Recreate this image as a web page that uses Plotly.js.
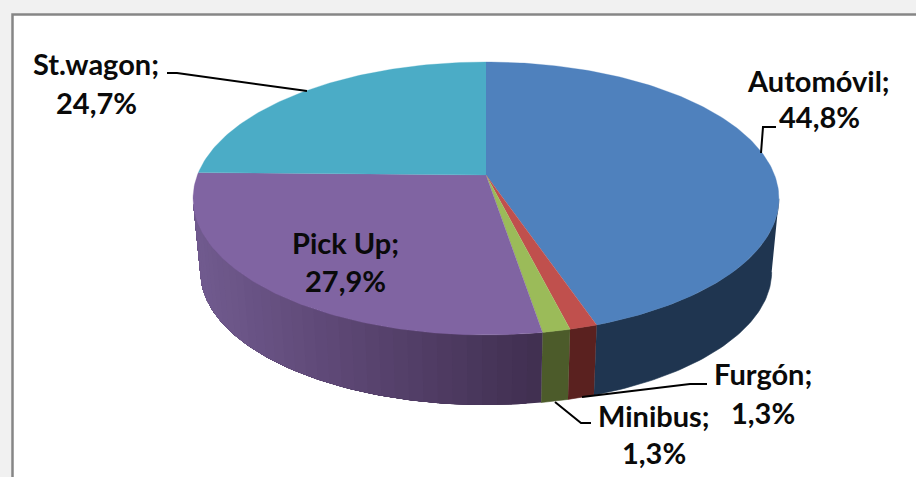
<!DOCTYPE html>
<html>
<head>
<meta charset="utf-8">
<script src="https://cdn.plot.ly/plotly-3.0.1.min.js"></script>
<style>html,body{margin:0;padding:0;background:#fff;overflow:hidden}#chart{width:916px;height:477px}</style>
</head>
<body>
<div id="chart"></div>
<script>
// Data
const categories = ["Automóvil", "Furgón", "Minibus", "Pick Up", "St.wagon"];
const shares = [44.8, 1.3, 1.3, 27.9, 24.7];

// Styles
const topColors = ["#4F81BD", "#C0504D", "#9BBB59", "#8064A2", "#4BACC6"];
const wallColors = ["#1F3550", "#5A211F", "#4C5B2A", null, "#325A69"];
const shadeStops = [[200, [112,90,142]], [330, [94,72,118]], [540, [64,47,80]]];

// Perspective model of the disc, in screen pixels
const CX = 486, TOP_Y = 175, BOTTOM_Y = 249;
const RX = 288.6, RY = 132.5, K = 0.172, BOTTOM_SCALE = 0.975;

function project(deg, y0, scale) {
  const t = deg * Math.PI / 180, u = Math.sin(t), v = Math.cos(t), d = 1 + K * v;
  return [CX + scale * RX * u / d, y0 - scale * RY * v / d];
}
function arc(a, b, y0, scale) {
  const n = Math.max(2, Math.ceil(Math.abs(b - a) / 1)), pts = [];
  for (let i = 0; i <= n; i++) pts.push(project(a + (b - a) * i / n, y0, scale));
  return pts;
}
function poly(pts, color, lw) {
  return {
    type: "scatter", mode: "lines", x: pts.map(p => p[0]), y: pts.map(p => p[1]),
    fill: "toself", fillcolor: color, line: {color: color, width: lw === undefined ? 0.6 : lw},
    hoverinfo: "skip", showlegend: false
  };
}
function shadeAt(x) {
  let c = shadeStops[shadeStops.length - 1][1];
  for (let i = 0; i < shadeStops.length - 1; i++) {
    const [x0, c0] = shadeStops[i], [x1, c1] = shadeStops[i + 1];
    if (x <= x1) {
      const f = Math.max(0, (x - x0) / (x1 - x0));
      c = c0.map((ch, k) => ch + (c1[k] - ch) * f);
      break;
    }
  }
  return "rgb(" + c.map(Math.round).join(",") + ")";
}

const total = shares.reduce((s, v) => s + v, 0);
const ranges = [];
let acc = 0;
shares.forEach(v => { ranges.push([acc / total * 360, (acc + v) / total * 360]); acc += v; });

const wall = (a, b) => arc(a, b, TOP_Y, 1).concat(arc(b, a, BOTTOM_Y, BOTTOM_SCALE));
const traces = [];
// Side wall: each band paints over the rest of its slice, so bands leave no seams
const VIS_A = 100, VIS_B = 258, BAND = 2.5;
ranges.forEach((r, i) => {
  const a = Math.max(r[0], VIS_A), b = Math.min(r[1], VIS_B);
  if (b <= a) return;
  if (wallColors[i]) { traces.push(poly(wall(a, b), wallColors[i])); return; }
  for (let s = a; s < b; s += BAND) {
    const mid = project(Math.min(s + BAND / 2, b), TOP_Y, 1)[0];
    traces.push(poly(wall(s, b), shadeAt(mid), 0));
  }
});
// Top face
ranges.forEach((r, i) => {
  traces.push(poly([[CX, TOP_Y]].concat(arc(r[0], r[1], TOP_Y, 1)), topColors[i], 0.3));
});

// Leader lines
const leaders = [
  [[167,73],[177,73],[307,91]],
  [[776,127],[763,127],[761,153]],
  [[707,384],[690,384],[582,397]],
  [[591,423],[581,423],[555,402]]
];
leaders.forEach(l => traces.push({
  type: "scatter", mode: "lines", x: l.map(p => p[0]), y: l.map(p => p[1]),
  line: {color: "#000", width: 2}, hoverinfo: "skip", showlegend: false
}));

// Labels: [name line centre, value line centre]
const labelPos = [
  [[818,80],[819,116]],
  [[763,373],[763,412]],
  [[654,415],[654,452]],
  [[345,242],[345,280]],
  [[96,63],[96,102]]
];
const fmt = v => v.toFixed(1).replace(".", ",") + "%";
const annotations = [];
categories.forEach((c, i) => {
  [c + ";", fmt(shares[i])].forEach((t, j) => annotations.push({
    text: "<b>" + t + "</b>", x: labelPos[i][j][0], y: labelPos[i][j][1], xref: "x", yref: "y",
    showarrow: false, xanchor: "center", yanchor: "middle",
    font: {family: "Lato, Carlito, sans-serif", size: 29, color: "#0a0a0a"}
  }));
});

const hidden = {visible: false, fixedrange: true};
const layout = {
  width: 916, height: 477, margin: {l: 0, r: 0, t: 0, b: 0},
  paper_bgcolor: "#F1F1F1", plot_bgcolor: "rgba(0,0,0,0)", showlegend: false,
  xaxis: Object.assign({range: [0, 916]}, hidden),
  yaxis: Object.assign({range: [477, 0]}, hidden),
  shapes: [
    {type: "rect", xref: "x", yref: "y", x0: 12.5, y0: 14.5, x1: 930, y1: 500, layer: "below",
     fillcolor: "#FFFFFF", line: {color: "#868686", width: 2.5}}
  ],
  annotations: annotations
};
Plotly.newPlot("chart", traces, layout, {displayModeBar: false, staticPlot: true});
</script>
</body>
</html>
